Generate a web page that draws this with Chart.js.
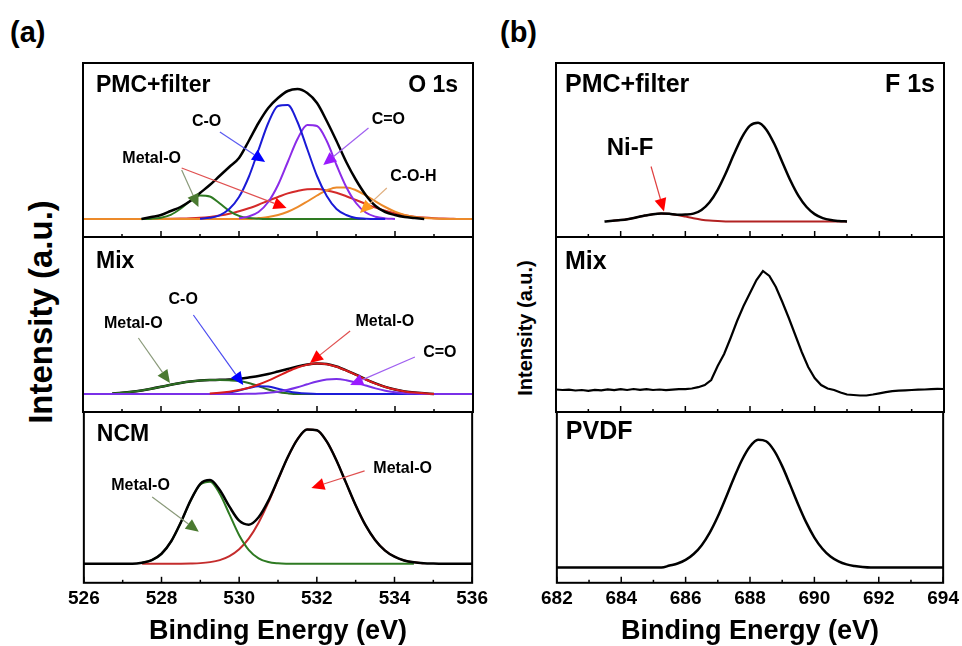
<!DOCTYPE html>
<html lang="en">
<head>
<meta charset="UTF-8">
<title>XPS O 1s / F 1s</title>
<style>
  html, body { margin: 0; padding: 0; background: #fff; overflow: hidden; }
  body { width: 962px; height: 646px; position: relative; font-family: "Liberation Sans", Arial, sans-serif; }
  .box { position: absolute; }
  .box canvas { display: block; }
  .tag { position: absolute; font-weight: bold; font-size: 29px; line-height: 1; }
  .ytitle { position: absolute; font-weight: bold; white-space: nowrap; line-height: 1;
            transform: translate(-50%, -50%) rotate(-90deg); }
</style>
<script src="https://cdn.jsdelivr.net/npm/chart.js"></script>
</head>
<body>
<div class="tag" style="left:10px;top:18px">(a)</div>
<div class="tag" style="left:500px;top:18px">(b)</div>
<div class="ytitle" style="left:40px;top:312px;font-size:33px">Intensity (a.u.)</div>
<div class="ytitle" style="left:525px;top:328px;font-size:20px">Intensity (a.u.)</div>

<div class="box" style="left:63px;top:59px"><canvas id="aTop" width="430" height="182"></canvas></div>
<div class="box" style="left:63px;top:233px"><canvas id="aMid" width="430" height="183"></canvas></div>
<div class="box" style="left:63px;top:408px"><canvas id="aBot" width="430" height="241"></canvas></div>
<div class="box" style="left:536px;top:59px"><canvas id="bTop" width="428" height="182"></canvas></div>
<div class="box" style="left:536px;top:233px"><canvas id="bMid" width="428" height="183"></canvas></div>
<div class="box" style="left:536px;top:408px"><canvas id="bBot" width="428" height="241"></canvas></div>

<script>
const FONT = '"Liberation Sans", Arial, sans-serif';

// binding energy grids (eV)
const eA = [526, 526.25, 526.5, 526.75,
            527, 527.25, 527.5, 527.75,
            528, 528.25, 528.5, 528.75,
            529, 529.25, 529.5, 529.75,
            530, 530.25, 530.5, 530.75,
            531, 531.25, 531.5, 531.75,
            532, 532.25, 532.5, 532.75,
            533, 533.25, 533.5, 533.75,
            534, 534.25, 534.5, 534.75,
            535, 535.25, 535.5, 535.75,
            536];
const eB = [682, 682.25, 682.5, 682.75,
            683, 683.25, 683.5, 683.75,
            684, 684.25, 684.5, 684.75,
            685, 685.25, 685.5, 685.75,
            686, 686.25, 686.5, 686.75,
            687, 687.25, 687.5, 687.75,
            688, 688.25, 688.5, 688.75,
            689, 689.25, 689.5, 689.75,
            690, 690.25, 690.5, 690.75,
            691, 691.25, 691.5, 691.75,
            692, 692.25, 692.5, 692.75,
            693, 693.25, 693.5, 693.75,
            694];
const eBraw = [682, 682.2, 682.4, 682.6, 682.8,
               683, 683.2, 683.4, 683.6, 683.8,
               684, 684.2, 684.4, 684.6, 684.8,
               685, 685.2, 685.4, 685.6, 685.8,
               686, 686.2, 686.4, 686.6, 686.8,
               687, 687.2, 687.4, 687.6, 687.8,
               688, 688.2, 688.4, 688.6, 688.8,
               689, 689.2, 689.4, 689.6, 689.8,
               690, 690.2, 690.4, 690.6, 690.8,
               691, 691.2, 691.4, 691.6, 691.8,
               692, 692.2, 692.4, 692.6, 692.8,
               693, 693.2, 693.4, 693.6, 693.8,
               694];

// O 1s - PMC+filter
const oPmcEnv = [null, null, null, null,
                 null, null, 0, 2,
                 4, 8, 12, 18,
                 26, 34, 43, 52,
                 61, 78, 96, 111,
                 121, 128, 130, 126,
                 116, 98, 78, 57,
                 39, 24, 13, 7,
                 4, 2, 1, 0,
                 null, null, null, null,
                 null];
const oPmcCO = [null, null, null, null,
                null, null, null, null,
                null, null, null, null,
                0.3, 1.2, 3.7, 10,
                22, 42, 69, 96,
                113, 114, 97, 70,
                43, 23, 10, 4,
                1, 0.3, 0, 0,
                null, null, null, null,
                null, null, null, null,
                null];
const oPmcCdO = [null, null, null, null,
                 null, null, null, null,
                 null, null, null, null,
                 null, null, null, null,
                 0.7, 2.6, 7, 17,
                 34, 57, 80, 94,
                 93, 78, 54, 32,
                 16, 6.5, 2.3, 0.6,
                 0, null, null, null,
                 null, null, null, null,
                 null];
const oPmcMetal1 = [null, null, null, null,
                    null, null, 0, 0.3,
                    1.3, 4.2, 10.2, 18,
                    23.5, 22.5, 15.8, 8.2,
                    3.1, 0.9, 0.2, 0,
                    0, 0, 0, 0,
                    0, 0, 0, 0,
                    0, 0, null, null,
                    null, null, null, null,
                    null, null, null, null,
                    null];
const oPmcCOH = [0, 0, 0, 0,
                 0, 0, 0, 0,
                 0, 0, 0, 0,
                 0, 0, 0, 0,
                 0, 0, 0.9, 2,
                 4, 7.2, 11.8, 17.5,
                 23.5, 28.6, 31.6, 31.6,
                 28.8, 23.7, 17.7, 12,
                 7.4, 4.1, 2.1, 1,
                 0.4, 0.1, 0, 0,
                 0];
const oPmcMetal2 = [0, 0, 0, 0,
                    0, 0, 0, 0,
                    0.1, 0.2, 0.4, 0.7,
                    1.2, 2.1, 3.4, 5.2,
                    7.7, 10.7, 14.3, 18.2,
                    22, 25.6, 28, 29.7,
                    30, 28.6, 26.2, 22.8,
                    19, 15.1, 11.4, 8.2,
                    5.7, 3.7, 2.3, 1.4,
                    0.8, 0.4, 0.2, 0,
                    0];

// O 1s - Mix
const oMixEnv = [null, null, null, 0.5,
                 1.2, 2.2, 3.6, 5.3,
                 7.2, 9.2, 11, 12.5,
                 13.5, 14, 14.2, 14.5,
                 15, 16.5, 18, 20,
                 22.5, 25, 27.5, 29.5,
                 30.5, 30, 27.5, 23.7,
                 19.3, 14.7, 10.6, 7.1,
                 4.5, 2.6, 1.4, 0.7,
                 0, null, null, null,
                 null];
const oMixMetal1 = [null, null, null, 0.5,
                    1.2, 2.2, 3.6, 5.3,
                    7.2, 9.2, 11, 12.5,
                    13.5, 14, 14, 13.7,
                    13, 11, 8, 4.5,
                    2, 0.7, 0, 0,
                    0, null, null, null,
                    null, null, null, null,
                    null, null, null, null,
                    null, null, null, null,
                    null];
const oMixCO = [0, 0, 0, 0,
                0, 0, 0, 0,
                0, 0, 0, 0,
                0, 0, 0.5, 1.5,
                3.5, 6, 7.8, 7.5,
                5.3, 2.8, 1.2, 0.4,
                0, 0, 0, 0,
                0, 0, 0, 0,
                0, 0, 0, 0,
                0, 0, 0, 0,
                0];
const oMixCdO = [0, 0, 0, 0,
                 0, 0, 0, 0,
                 0, 0, 0, 0,
                 0, 0, 0, 0,
                 0, 0.2, 0.5, 1.2,
                 2.3, 4.2, 6.7, 9.7,
                 12.5, 14.5, 15, 13.8,
                 11.5, 8.5, 5.6, 3.3,
                 1.8, 0.8, 0.4, 0,
                 0, 0, 0, 0,
                 0];
const oMixMetal2 = [null, null, null, null,
                    null, null, null, null,
                    null, null, null, null,
                    null, 0.6, 1.2, 2.3,
                    3.9, 6.3, 9.5, 13.4,
                    17.9, 22.5, 26.5, 29.3,
                    30.5, 29.8, 27.3, 23.5,
                    19.1, 14.5, 10.4, 7,
                    4.4, 2.6, 1.4, 0.7,
                    0, null, null, null,
                    null];

// O 1s - NCM
const oNcmEnv = [0, 0, 0, 0,
                 0, 0, 1.1, 3.7,
                 10.1, 22.6, 41.7, 63.5,
                 80.1, 83.9, 73.9, 57.2,
                 43.2, 39.2, 46.6, 63,
                 84.6, 106.7, 124.6, 134.5,
                 133.8, 122.8, 104, 81.3,
                 58.6, 38.9, 23.9, 13.5,
                 7.1, 3.4, 1.5, 0.6,
                 0.2, 0, 0, 0,
                 0];
const oNcmMetal1 = [null, null, null, null,
                    null, null, 1.1, 3.7,
                    10.1, 22.6, 41.6, 63.3,
                    79.4, 82.2, 70.2, 49.5,
                    28.7, 13.8, 5.5, 1.8,
                    0.5, 0.1, 0, 0,
                    0, 0, 0, 0,
                    0, 0, 0, 0,
                    0, 0, 0, null,
                    null, null, null, null,
                    null];
const oNcmMetal2 = [null, null, null, null,
                    null, null, 0, 0,
                    0, 0, 0.1, 0.3,
                    0.7, 1.7, 3.7, 7.7,
                    14.5, 25.4, 41.1, 61.2,
                    84.1, 106.6, 124.6, 134.5,
                    133.8, 122.8, 104, 81.3,
                    58.6, 38.9, 23.9, 13.5,
                    7.1, 3.4, 1.5, 0.6,
                    null, null, null, null,
                    null];

// F 1s - PMC+filter
const fPmcEnv = [null, null, null, null,
                 null, null, 0, 0.7,
                 1.4, 2.6, 4.2, 5.9,
                 7.3, 8, 7.7, 6.8,
                 7, 7.9, 11.6, 19.3,
                 31.7, 48.2, 66.9, 84.2,
                 95.9, 98.8, 92.1, 77.7,
                 59.3, 41, 25.6, 14.5,
                 7.4, 3.4, 1.4, 0.5,
                 0, null, null, null,
                 null, null, null, null,
                 null, null, null, null,
                 null];
const fPmcNiF = [null, null, null, null,
                 null, null, null, 0.7,
                 1.4, 2.6, 4.2, 5.9,
                 7.3, 8, 7.7, 6.5,
                 4.9, 3.2, 1.8, 0.9,
                 0.4, 0.1, 0, 0,
                 0, 0, 0, 0,
                 0, 0, 0, 0,
                 0, 0, 0, 0,
                 0, null, null, null,
                 null, null, null, null,
                 null, null, null, null,
                 null];

// F 1s - Mix (raw spectrum)
const fMix = [0.5, 0, 0.3, -0.5, 0,
              -0.8, 0.2, -0.3, 0.6, -0.2,
              0.8, 0, 1, 0.2, 0.9,
              0, 0.5, -0.2, 0.4, 0.8,
              0.8, 1.5, 2.8, 5, 10,
              24, 36, 52, 69, 84,
              97, 110, 119, 114, 103,
              88, 72, 55, 38, 23,
              12, 5, 1.5, 0, -2.5,
              -4.5, -5, -5.5, -5.5, -4.5,
              -3.3, -2.2, -1.2, -0.6, -0.3,
              0, 0.3, 0.5, 0.8, 1.2,
              1];

// F 1s - PVDF
const fPvdf = [0, 0, 0, 0,
               0, 0, 0, 0,
               0, 0, 0, 0,
               0, 0, 2, 4,
               7.6, 13.5, 22.4, 35,
               51.1, 69.9, 89.6, 107.7,
               121.2, 127.9, 126.4, 117,
               101.5, 82.5, 62.9, 44.9,
               30, 18.8, 11, 6.1,
               3.1, 1.5, 0.5, 0,
               0, 0, 0, 0,
               0, 0, 0, 0,
               0];

// annotations: label at (x, y), arrow from -> to, in data units
const notesPmcO = [
  { text: 'C-O', x: 529.17, y: 97, from: [529.51, 87], to: [530.67, 57], line: '#5a5af0', head: '#0000ff' },
  { text: 'C=O', x: 533.83, y: 99, from: [533.32, 91], to: [532.16, 54], line: '#a060f0', head: '#9a1aff' },
  { text: 'Metal-O', x: 527.76, y: 60, from: [528.53, 49], to: [528.96, 12], line: '#8a9a7a', head: '#4a7a30' },
  { text: '', x: 0, y: 0, from: [528.53, 51], to: [531.22, 11], line: '#e05050', head: '#ff0000' },
  { text: 'C-O-H', x: 534.47, y: 42, from: [533.79, 31], to: [533.1, 6], line: '#e0b080', head: '#ff9a20' }
];
const notesMixO = [
  { text: 'C-O', x: 528.57, y: 94, from: [528.83, 79], to: [530.11, 9], line: '#4a4af0', head: '#0000ff' },
  { text: 'Metal-O', x: 527.29, y: 70, from: [527.42, 56], to: [528.23, 11], line: '#8a9a7a', head: '#4a7a30' },
  { text: 'Metal-O', x: 533.74, y: 72, from: [532.85, 63], to: [531.82, 31], line: '#e05050', head: '#ff0000' },
  { text: 'C=O', x: 535.15, y: 41, from: [534.51, 37], to: [532.85, 9], line: '#a060f0', head: '#9a1aff' }
];
const notesNcmO = [
  { text: 'Metal-O', x: 527.46, y: 78, from: [527.76, 67], to: [528.96, 32], line: '#8a9a7a', head: '#4a7a30' },
  { text: 'Metal-O', x: 534.21, y: 95, from: [533.23, 93], to: [531.86, 76], line: '#e05050', head: '#ff0000' }
];
const notesPmcF = [
  { text: 'Ni-F', x: 684.29, y: 73, from: [684.94, 55], to: [685.34, 10], line: '#e04040', head: '#ff0000' }
];

function series(xs, ys, color, width, raw) {
  return {
    data: xs.map((x, i) => ({ x: x, y: ys[i] })),
    borderColor: color,
    borderWidth: width || 2,
    pointRadius: 0,
    fill: false,
    spanGaps: false,
    cubicInterpolationMode: raw ? 'default' : 'monotone',
    tension: 0
  };
}

function arrow(ctx, x1, y1, x2, y2, lineColor, headColor) {
  const ang = Math.atan2(y2 - y1, x2 - x1);
  const c = Math.cos(ang), s = Math.sin(ang);
  const hl = 13, hw = 6;
  ctx.strokeStyle = lineColor;
  ctx.lineWidth = 1.2;
  ctx.beginPath();
  ctx.moveTo(x1, y1);
  ctx.lineTo(x2 - hl * c, y2 - hl * s);
  ctx.stroke();
  ctx.fillStyle = headColor;
  ctx.beginPath();
  ctx.moveTo(x2, y2);
  ctx.lineTo(x2 - hl * c + hw * s, y2 - hl * s - hw * c);
  ctx.lineTo(x2 - hl * c - hw * s, y2 - hl * s + hw * c);
  ctx.closePath();
  ctx.fill();
}

// frame, inward ticks, panel names and arrows
function framePlugin(o) {
  return {
    id: 'frame',
    afterDatasetsDraw(chart) {
      const ctx = chart.ctx, a = chart.chartArea;
      const xs = chart.scales.x, ys = chart.scales.y;
      ctx.save();
      ctx.strokeStyle = '#000';
      ctx.lineWidth = 1.5;
      for (let v = xs.min; v <= xs.max + 1e-6; v += 1) {
        const px = xs.getPixelForValue(v);
        const len = ((v - xs.min) % 2 === 0) ? 6 : 3;
        ctx.beginPath();
        ctx.moveTo(px, a.bottom);
        ctx.lineTo(px, a.bottom - len);
        ctx.stroke();
      }
      ctx.lineWidth = 2;
      ctx.strokeRect(a.left, a.top, a.right - a.left, a.bottom - a.top);

      ctx.fillStyle = '#000';
      ctx.textBaseline = 'middle';
      ctx.font = 'bold ' + o.size + 'px ' + FONT;
      ctx.textAlign = 'left';
      ctx.fillText(o.name, a.left + o.lx, a.top + o.ly);
      if (o.core) {
        ctx.textAlign = 'right';
        ctx.fillText(o.core, a.right - o.rx, a.top + o.ly);
      }
      (o.notes || []).forEach(n => {
        arrow(ctx, xs.getPixelForValue(n.from[0]), ys.getPixelForValue(n.from[1]),
              xs.getPixelForValue(n.to[0]), ys.getPixelForValue(n.to[1]), n.line, n.head);
        if (n.text) {
          ctx.fillStyle = '#000';
          ctx.font = 'bold ' + o.noteSize + 'px ' + FONT;
          ctx.textAlign = 'center';
          ctx.fillText(n.text, xs.getPixelForValue(n.x), ys.getPixelForValue(n.y));
        }
      });
      ctx.restore();
    }
  };
}

function makeChart(id, xr, yr, datasets, frame, showAxis) {
  return new Chart(document.getElementById(id), {
    type: 'line',
    data: { datasets: datasets },
    options: {
      responsive: false,
      animation: false,
      events: [],
      layout: { padding: { left: 20, right: 20, top: 4, bottom: showAxis ? 0 : 4 } },
      plugins: { legend: { display: false }, tooltip: { enabled: false } },
      scales: {
        x: {
          type: 'linear', min: xr[0], max: xr[1], display: showAxis,
          grid: { display: false, drawTicks: false },
          border: { display: false },
          ticks: { stepSize: 2, autoSkip: false, maxRotation: 0, padding: 5, color: '#000',
                   font: { family: FONT, size: 19, weight: 'bold' } },
          title: { display: true, text: 'Binding Energy (eV)', color: '#000',
                   padding: { top: 0, bottom: 1 },
                   font: { family: FONT, size: 27, weight: 'bold' } }
        },
        y: { type: 'linear', min: yr[0], max: yr[1], display: false }
      }
    },
    plugins: [framePlugin(frame)]
  });
}

// (a) O 1s
makeChart('aTop', [526, 536], [-18, 156], [
  series(eA, oPmcEnv, '#000000', 2.5),
  series(eA, oPmcCO, '#1a1ad6'),
  series(eA, oPmcCdO, '#8b2be8'),
  series(eA, oPmcMetal1, '#2e7a22'),
  series(eA, oPmcCOH, '#ec8a2a'),
  series(eA, oPmcMetal2, '#d42a2a')
], { name: 'PMC+filter', core: 'O 1s', size: 23, lx: 13, ly: 23, rx: 15, notes: notesPmcO, noteSize: 16 }, false);

makeChart('aMid', [526, 536], [-18, 157], [
  series(eA, oMixMetal2, '#d81c1c'),
  series(eA, oMixCdO, '#7a30e8'),
  series(eA, oMixCO, '#1c1cd8'),
  series(eA, oMixMetal1, '#2c6e22'),
  series(eA, oMixEnv, '#000000', 2.5)
], { name: 'Mix', size: 23, lx: 13, ly: 25, notes: notesMixO, noteSize: 16 }, false);

makeChart('aBot', [526, 536], [-19, 152], [
  series(eA, oNcmEnv, '#000000', 2.5),
  series(eA, oNcmMetal1, '#2e7a22'),
  series(eA, oNcmMetal2, '#c42c2c')
], { name: 'NCM', size: 23, lx: 13, ly: 23, notes: notesNcmO, noteSize: 16 }, true);

// (b) F 1s
makeChart('bTop', [682, 694], [-15.5, 158.5], [
  series(eB, fPmcEnv, '#000000', 2.5),
  series(eB, fPmcNiF, '#b22222')
], { name: 'PMC+filter', core: 'F 1s', size: 25, lx: 9, ly: 22, rx: 9, notes: notesPmcF, noteSize: 24 }, false);

makeChart('bMid', [682, 694], [-22, 153], [
  series(eBraw, fMix, '#000000', 2.2, true)
], { name: 'Mix', size: 25, lx: 9, ly: 25 }, false);

makeChart('bBot', [682, 694], [-15.3, 155.7], [
  series(eB, fPvdf, '#000000', 2.5)
], { name: 'PVDF', size: 25, lx: 9, ly: 20 }, true);
</script>
</body>
</html>
